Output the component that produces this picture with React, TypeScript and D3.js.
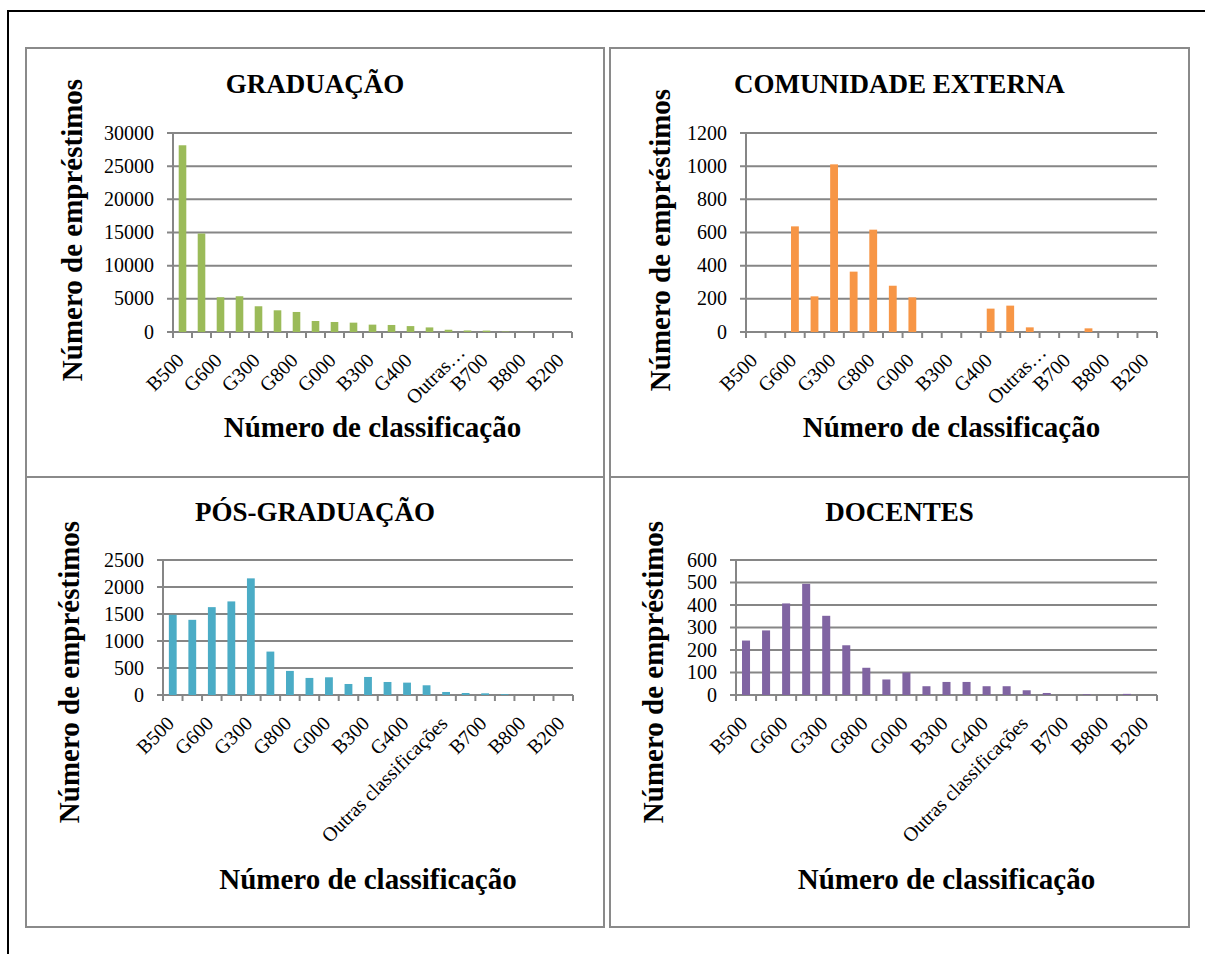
import * as d3 from "d3";

// categories (every other one is labelled on the axis)
const categories = [
  "B500", "B600", "G600", "G500", "G300", "G100", "G800", "G700", "G000", "G200",
  "B300", "G900", "G400", "B100", "Outras classificações", "B400", "B700", "B900",
  "B800", "B000", "B200",
];

const graduacao = [28150, 14850, 5240, 5390, 3880, 3270, 3020, 1660, 1510, 1410, 1110, 1060, 890, 690, 340, 230, 210, 70, 20, 0, 0];
const comunidade = [0, 0, 637, 215, 1011, 364, 617, 279, 209, 0, 0, 0, 141, 159, 28, 0, 0, 22, 0, 0, 0];
const posGraduacao = [1485, 1392, 1627, 1733, 2160, 804, 446, 316, 328, 204, 334, 241, 229, 180, 56, 37, 31, 15, 0, 0, 0];
const docentes = [242, 287, 407, 494, 352, 221, 121, 69, 100, 39, 58, 58, 39, 39, 21, 9, 0, 3, 0, 5, 0];

const titles = ["GRADUAÇÃO", "COMUNIDADE EXTERNA", "PÓS-GRADUAÇÃO", "DOCENTES"];
const yMax = [30000, 1200, 2500, 600];
const yStep = [5000, 200, 500, 100];

const yTitle = "Número de empréstimos";
const xTitle = "Número de classificação";

const FONT = "'Liberation Serif', 'Times New Roman', serif";
const GRID = "#868686";

type PanelProps = {
  title: string;
  values: number[];
  color: string;
  max: number;
  step: number;
  box: [number, number, number, number];
  plot: { x0: number; x1: number; y0: number; y1: number };
  titleY: number;
  yTitlePos: [number, number];
  xTitleY: number;
  truncate: boolean;
};

function Panel(p: PanelProps) {
  const x = d3.scaleBand<string>().domain(categories).range([p.plot.x0, p.plot.x1]);
  const y = d3.scaleLinear().domain([0, p.max]).range([p.plot.y1, p.plot.y0]);
  const ticks = d3.range(0, p.max + p.step / 2, p.step);
  const bw = x.bandwidth();
  const barW = bw * 0.4;
  const boundaries = d3.range(categories.length + 1).map((i) => p.plot.x0 + i * bw);
  const [bx, by, bWidth, bHeight] = p.box;

  // long labels get cut off in the small panels (Excel wraps then truncates)
  const isCut = (c: string) => p.truncate && c.includes(" ");
  const label = (c: string) => (isCut(c) ? c.split(" ")[0] + "…" : c);

  return (
    <g>
      <rect x={bx} y={by} width={bWidth} height={bHeight} fill="none" stroke="#8a8a8a" strokeWidth={2} />
      <text
        x={bx + bWidth / 2}
        y={p.titleY}
        textAnchor="middle"
        fontFamily={FONT}
        fontWeight="bold"
        fontSize={27}
      >
        {p.title}
      </text>

      {/* grid + y ticks */}
      {ticks.map((t) => (
        <g key={t}>
          <line x1={p.plot.x0 - 6} x2={p.plot.x1} y1={y(t)} y2={y(t)} stroke={GRID} strokeWidth={2} />
          <text
            x={p.plot.x0 - 19}
            y={y(t)}
            dy="0.33em"
            textAnchor="end"
            fontFamily={FONT}
            fontSize={20}
          >
            {t}
          </text>
        </g>
      ))}
      <line x1={p.plot.x0} x2={p.plot.x0} y1={p.plot.y0} y2={p.plot.y1 + 6} stroke={GRID} strokeWidth={2} />
      {boundaries.map((bxx, i) => (
        <line key={i} x1={bxx} x2={bxx} y1={p.plot.y1} y2={p.plot.y1 + 6} stroke={GRID} strokeWidth={2} />
      ))}

      {/* bars */}
      {p.values.map((v, i) =>
        v > 0 ? (
          <rect
            key={i}
            x={x(categories[i])! + (bw - barW) / 2}
            y={y(v)}
            width={barW}
            height={y(0) - y(v)}
            fill={p.color}
          />
        ) : null
      )}

      {/* x labels */}
      {categories.map((c, i) =>
        i % 2 === 0 ? (
          <text
            key={c}
            transform={`translate(${x(c)! + bw / 2 - 2 + (isCut(c) ? 15 : 0)},${p.plot.y1 + 25 - (isCut(c) ? 8 : 0)}) rotate(-45)`}
            dy="0.33em"
            textAnchor="end"
            fontFamily={FONT}
            fontSize={20}
          >
            {label(c)}
          </text>
        ) : null
      )}

      <text
        transform={`translate(${p.yTitlePos[0]},${p.yTitlePos[1]}) rotate(-90)`}
        dy="0.35em"
        textAnchor="middle"
        fontFamily={FONT}
        fontWeight="bold"
        fontSize={29}
      >
        {yTitle}
      </text>
      <text
        x={(p.plot.x0 + p.plot.x1) / 2}
        y={p.xTitleY}
        textAnchor="middle"
        fontFamily={FONT}
        fontWeight="bold"
        fontSize={29}
      >
        {xTitle}
      </text>
    </g>
  );
}

export default function App() {
  const series = [graduacao, comunidade, posGraduacao, docentes];
  const colors = ["#9BBB59", "#F79646", "#4BACC6", "#8064A2"];
  const layout = [
    { box: [26, 48, 578, 429], plot: { x0: 173, x1: 572, y0: 133, y1: 332 }, titleY: 93, yTitlePos: [72, 230], xTitleY: 437, truncate: true },
    { box: [610, 48, 579, 429], plot: { x0: 746, x1: 1157, y0: 133, y1: 332 }, titleY: 93, yTitlePos: [660, 240], xTitleY: 437, truncate: true },
    { box: [26, 477, 578, 450], plot: { x0: 163, x1: 573, y0: 560, y1: 695 }, titleY: 521, yTitlePos: [69, 672], xTitleY: 889, truncate: false },
    { box: [610, 477, 579, 450], plot: { x0: 736, x1: 1157, y0: 560, y1: 695 }, titleY: 521, yTitlePos: [653, 672], xTitleY: 889, truncate: false },
  ];

  return (
    <svg
      width={1205}
      height={954}
      style={{ position: "absolute", left: 0, top: 0, display: "block", background: "#fff" }}
    >
      {/* outer frame */}
      <line x1={8} x2={1205} y1={11} y2={11} stroke="#000" strokeWidth={2} />
      <line x1={8} x2={8} y1={10} y2={954} stroke="#000" strokeWidth={2} />
      {layout.map((l, i) => (
        <Panel
          key={i}
          title={titles[i]}
          values={series[i]}
          color={colors[i]}
          max={yMax[i]}
          step={yStep[i]}
          box={l.box as [number, number, number, number]}
          plot={l.plot}
          titleY={l.titleY}
          yTitlePos={l.yTitlePos as [number, number]}
          xTitleY={l.xTitleY}
          truncate={l.truncate}
        />
      ))}
    </svg>
  );
}
